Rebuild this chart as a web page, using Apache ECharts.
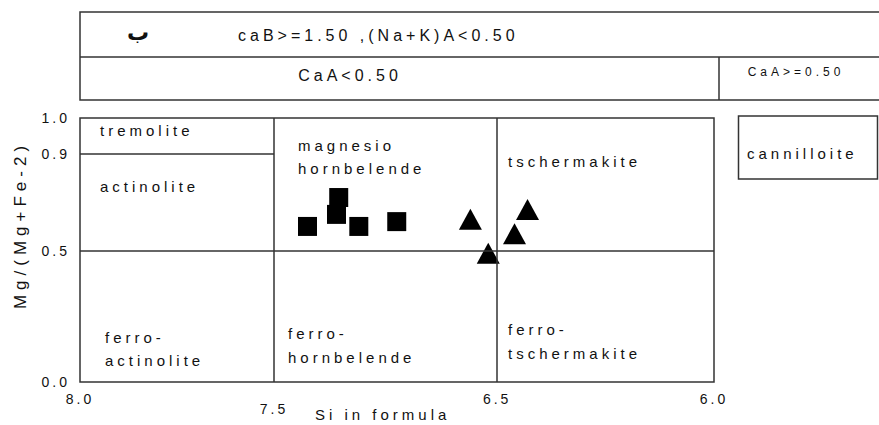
<!DOCTYPE html>
<html><head><meta charset="utf-8">
<script src="https://cdn.jsdelivr.net/npm/echarts@6/dist/echarts.min.js"></script>
<style>html,body{margin:0;padding:0;background:#fff}#c{width:879px;height:425px}</style>
</head><body><div id="c"></div>
<script>
// ---- data ----
const siTicks = [8.0, 7.5, 6.5, 6.0];
const siTickLabels = ['8.0', '7.5', '6.5', '6.0'];
const mgTicks = [0.0, 0.5, 0.9, 1.0];
const mgTickLabels = ['0.0', '0.5', '0.9', '1.0'];
const squareSi = [7.35, 7.21, 7.22, 7.12, 6.95];
const squareMg = [0.60, 0.72, 0.65, 0.60, 0.62];
const triangleSi = [6.62, 6.54, 6.43, 6.46];
const triangleMg = [0.63, 0.49, 0.67, 0.57];
const fieldSiBounds = [7.5, 6.5];
const fieldMgBound = 0.5;
const tremoliteMg = 0.9;
const tremoliteSiRange = [8.0, 7.5];

// ---- layout: the diagram axes are drawn piecewise (fraction of axis length per tick) ----
const siTickPos = [0, 0.306, 0.658, 1];
const mgTickPos = [0, 0.498, 0.863, 1];
function warp(v, ticks, pos) {
  for (let i = 0; i < ticks.length - 1; i++) {
    const a = ticks[i], b = ticks[i + 1];
    const lo = Math.min(a, b), hi = Math.max(a, b);
    if ((v >= lo && v <= hi) || i === ticks.length - 2) {
      const t = (v - a) / (b - a);
      return pos[i] + t * (pos[i + 1] - pos[i]);
    }
  }
}
const wx = v => warp(v, siTicks, siTickPos);
const wy = v => warp(v, mgTicks, mgTickPos);
function labelFor(val, pos, labels) {
  for (let i = 0; i < pos.length; i++) if (Math.abs(pos[i] - val) < 1e-6) return labels[i];
  return '';
}

const LINE = '#333';
const TXT = '#111';
const FF = '"Liberation Sans", Arial, sans-serif';
function txt(text, x, y, size, opts) {
  return {
    type: 'text', silent: true,
    style: Object.assign({ text, x, y, fill: TXT, font: size + 'px ' + FF, textAlign: 'left', textVerticalAlign: 'middle' }, opts || {})
  };
}

const chart = echarts.init(document.getElementById('c'), null, { renderer: 'svg' });
const option = {
  animation: false,
  backgroundColor: '#fff',
  grid: { left: 80, right: 165, top: 118, bottom: 43, show: true, borderColor: LINE, borderWidth: 1.5, containLabel: false },
  xAxis: {
    type: 'value', min: 0, max: 1,
    axisLine: { show: false }, axisTick: { show: false }, splitLine: { show: false },
    axisLabel: {
      customValues: siTickPos, margin: 10, color: TXT, fontSize: 14, fontFamily: FF,
      formatter: v => { const l = labelFor(v, siTickPos, siTickLabels); return l === '7.5' ? '{lo|' + l + '}' : l; },
      rich: { lo: { fontSize: 14, fontFamily: FF, color: TXT, padding: [10, 0, 0, 0] } }
    }
  },
  yAxis: {
    type: 'value', min: 0, max: 1,
    axisLine: { show: false }, axisTick: { show: false }, splitLine: { show: false },
    axisLabel: {
      customValues: mgTickPos, margin: 10, color: TXT, fontSize: 14, fontFamily: FF,
      formatter: v => labelFor(v, mgTickPos, mgTickLabels)
    }
  },
  series: [
    {
      type: 'scatter', name: 'square', symbol: 'rect', symbolSize: 19,
      itemStyle: { color: '#000', opacity: 1 },
      data: squareSi.map((s, i) => [wx(s), wy(squareMg[i])]),
      markLine: {
        silent: true, symbol: 'none', label: { show: false },
        lineStyle: { color: LINE, width: 1.5, type: 'solid', opacity: 1 },
        data: [
          ...fieldSiBounds.map(s => [{ coord: [wx(s), 0] }, { coord: [wx(s), 1] }]),
          [{ coord: [0, wy(fieldMgBound)] }, { coord: [1, wy(fieldMgBound)] }],
          [{ coord: [wx(tremoliteSiRange[0]), wy(tremoliteMg)] }, { coord: [wx(tremoliteSiRange[1]), wy(tremoliteMg)] }]
        ]
      }
    },
    {
      type: 'scatter', name: 'triangle', symbol: 'triangle', symbolSize: [23, 21],
      itemStyle: { color: '#000', opacity: 1 },
      data: triangleSi.map((s, i) => [wx(s), wy(triangleMg[i])])
    }
  ],
  graphic: [
    { type: 'rect', silent: true, shape: { x: 80, y: 12, width: 820, height: 88 }, style: { fill: 'none', stroke: LINE, lineWidth: 1.5 } },
    { type: 'line', silent: true, shape: { x1: 80, y1: 57, x2: 900, y2: 57 }, style: { stroke: LINE, lineWidth: 1.5 } },
    { type: 'line', silent: true, shape: { x1: 719, y1: 57, x2: 719, y2: 100 }, style: { stroke: LINE, lineWidth: 1.5 } },
    { type: 'rect', silent: true, shape: { x: 738.5, y: 116, width: 139, height: 63 }, style: { fill: 'none', stroke: LINE, lineWidth: 1.5 } },
    txt('ب', 138, 31, 22, { textAlign: 'center', font: 'bold 22px "Noto Sans", "DejaVu Sans", sans-serif' }),
    txt('caB>=1.50 ,(Na+K)A<0.50', 238, 35, 16),
    txt('CaA<0.50', 350, 75, 16, { textAlign: 'center' }),
    txt('CaA>=0.50', 796, 72, 12, { textAlign: 'center' }),
    txt('cannilloite', 747, 153, 15),
    txt('tremolite', 100, 130, 15),
    txt('actinolite', 100, 186, 15),
    txt('magnesio', 298, 145, 15),
    txt('hornbelende', 298, 168, 15),
    txt('tschermakite', 508, 161, 15),
    txt('ferro-', 105, 337, 15),
    txt('actinolite', 105, 360, 15),
    txt('ferro-', 288, 333, 15),
    txt('hornbelende', 288, 357, 15),
    txt('ferro-', 508, 329, 15),
    txt('tschermakite', 508, 353, 15),
    txt('Si in formula', 315, 414, 15),
    { type: 'text', silent: true, x: 20, y: 225, rotation: Math.PI / 2,
      style: { text: 'Mg/(Mg+Fe-2)', x: 0, y: 0, fill: TXT, font: '17px ' + FF, textAlign: 'center', textVerticalAlign: 'middle' } }
  ]
};
chart.setOption(option);

const LS = { 12: 4, 14: 3, 15: 4, 16: 4, 17: 5 };
function applySpacing() {
  document.querySelectorAll('#c svg text').forEach(t => {
    const fs = Math.round(parseFloat(getComputedStyle(t).fontSize));
    if (LS[fs] !== undefined) t.style.letterSpacing = LS[fs] + 'px';
  });
}
applySpacing();
chart.on('finished', applySpacing);
</script>
</body></html>
